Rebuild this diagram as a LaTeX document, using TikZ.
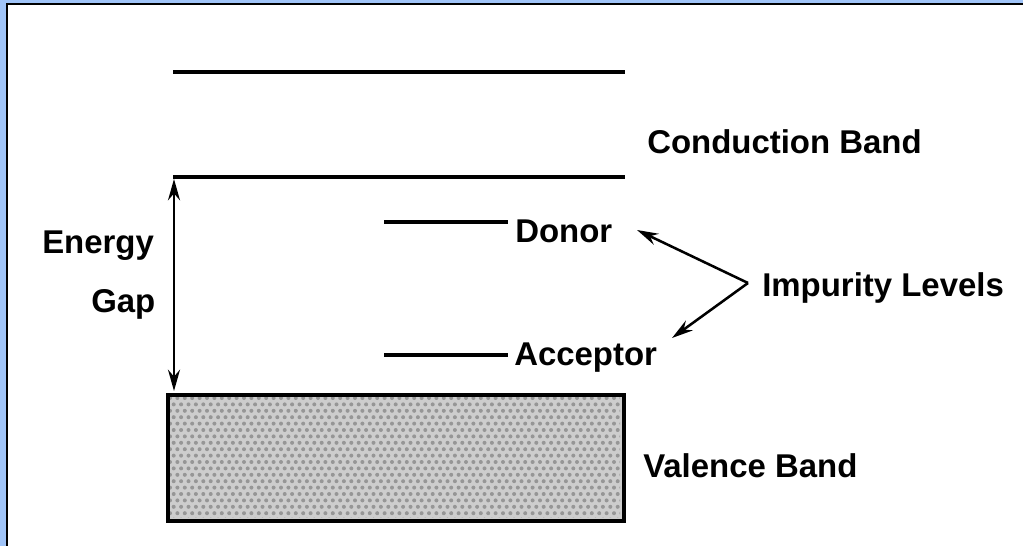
\documentclass[tikz,border=0pt]{standalone}
\usepackage{fontspec}
\setmainfont{Liberation Sans}
\usetikzlibrary{arrows.meta}
\definecolor{frameblue}{RGB}{160,196,248}
\definecolor{dotgray}{RGB}{150,150,150}
\definecolor{boxgray}{RGB}{205,205,205}
\begin{document}
\begin{tikzpicture}[x=0.75pt,y=-0.75pt,
  lbl/.style={inner sep=0pt,anchor=base west,font=\fontsize{24.7}{28}\selectfont\bfseries},
  level/.style={line width=2.8pt},
  short/.style={line width=2.4pt},
  pointer/.style={line width=1.9pt,-{Stealth[length=16pt,width=9pt]}},
  gap/.style={line width=1.9pt,{Stealth[length=16pt,width=9pt]}-{Stealth[length=16pt,width=9pt]}}]
\useasboundingbox (0,0) rectangle (1023,546);
\fill[white] (0,0) rectangle (1023,546);
% frame
\fill[frameblue] (0,0) rectangle (6,546);
\fill[frameblue] (0,0) rectangle (1023,3);
\fill[black] (6,3) rectangle (8,546);
\fill[black] (6,3) rectangle (1023,5);
% conduction band
\coordinate (ctl) at (173,72);
\coordinate (ctr) at (625,72);
\coordinate (cbl) at (173,177);
\coordinate (cbr) at (625,177);
\draw[level] (ctl) -- (ctr);
\draw[level] (cbl) -- (cbr);
\node[lbl] (cb) at (647,153) {Conduction Band};
% valence band
\fill[boxgray] (166,393) rectangle (622,519);
\begin{scope}
\clip (168,395) rectangle (620,517);
\foreach \r in {0,...,19}{
  \foreach \c in {0,...,62}{
    \pgfmathsetmacro{\xx}{170+\c*7.4+mod(\r,2)*3.7}
    \pgfmathsetmacro{\yy}{398+\r*6.4}
    \fill[dotgray] (\xx,\yy) circle[radius=1.5pt];
  }
}
\end{scope}
\node[draw=black,line width=2.8pt,minimum width=456*0.75pt,minimum height=126*0.75pt,inner sep=0pt,anchor=north west] (vb) at (166,393) {};
\node[lbl] (vbl) at (643,477) {Valence Band};
% energy gap
\coordinate (gtop) at (174,179);
\coordinate (gbot) at (174,391);
\draw[gap] (gtop) -- (gbot);
\node[lbl] (en) at (42,253) {Energy};
\node[lbl] (ga) at (91,312) {Gap};
% donor / acceptor
\coordinate (dl) at (384,222);
\coordinate (dr) at (508,222);
\draw[short] (dl) -- (dr);
\node[lbl] (don) at (515,242) {Donor};
\coordinate (al) at (384,355);
\coordinate (ar) at (508,355);
\draw[short] (al) -- (ar);
\node[lbl] (acc) at (514,365) {Acceptor};
% impurity levels
\node[lbl] (imp) at (762,296) {Impurity Levels};
\coordinate (vx) at (748,283);
\coordinate (dt) at (637,230);
\coordinate (at) at (672,338);
\draw[pointer] (vx) -- (dt);
\draw[pointer] (vx) -- (at);
\end{tikzpicture}
\end{document}
